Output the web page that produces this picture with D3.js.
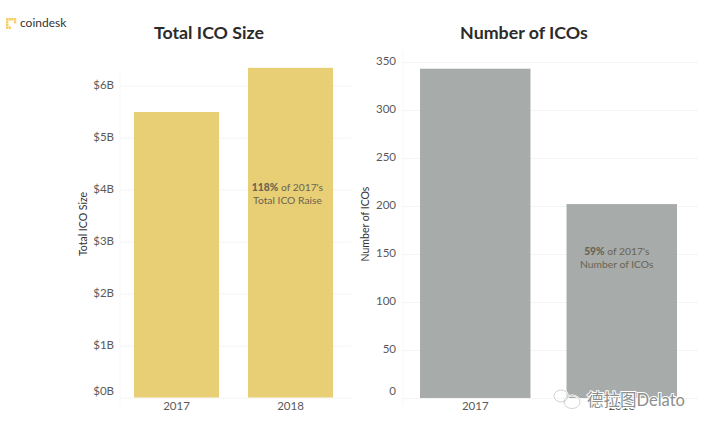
<!DOCTYPE html>
<html>
<head>
<meta charset="utf-8">
<script src="https://cdn.jsdelivr.net/npm/d3@7"></script>
<style>
  html, body { margin: 0; padding: 0; background: #fff; }
  svg { display: block; font-family: Lato, "Noto Sans CJK SC", sans-serif; }
  .grid line { stroke: #f3f4f3; }
  .grid path { display: none; }
  .yticks text, .xticks text { fill: #5a5a5a; font-size: 11.5px; font-family: Lato, sans-serif; }
  .title { fill: #2b2b2b; font-size: 17.8px; font-weight: 700; }
  .ylabel { fill: #333; font-size: 10.5px; }
  .note { fill: #6a6450; font-size: 10.3px; }
</style>
</head>
<body>
<svg id="chart" width="711" height="432"></svg>
<script>
var years = ["2017", "2018"];

var sizeTitle = "Total ICO Size";
var sizeValues = [5.49, 6.34];
var sizeTicks = [0, 1, 2, 3, 4, 5, 6];
var sizeNote = [["118%", " of 2017's"], ["", "Total ICO Raise"]];

var countTitle = "Number of ICOs";
var countValues = [343, 202];
var countTicks = [0, 50, 100, 150, 200, 250, 300, 350];
var countNote = [["59%", " of 2017's"], ["", "Number of ICOs"]];

var logoCells = [[0,0],[1,0],[2,0],[3,0],[0,1],[0,2],[0,3],[1,3],[3,1]];

var svg = d3.select("#chart");

function drawPanel(o) {
  var x = d3.scaleBand()
    .domain(years)
    .range(o.xRange)
    .paddingInner(o.padIn)
    .paddingOuter(o.padOut);
  var y = d3.scaleLinear()
    .domain([0, o.yMax])
    .range([o.yBase, o.yTop]);

  // faint frame line on the left of the plot
  svg.append("line")
    .attr("x1", o.xRange[0]).attr("x2", o.xRange[0])
    .attr("y1", o.yTop - 12).attr("y2", o.yBase + 8)
    .attr("stroke", "#f7f7f7");

  svg.append("g")
    .attr("class", "grid")
    .attr("transform", "translate(" + o.xRange[0] + ",0)")
    .call(d3.axisLeft(y)
      .tickValues(o.ticks)
      .tickSize(o.xRange[0] - o.xRange[1] - 4)
      .tickFormat(""));

  var yAxis = svg.append("g")
    .attr("class", "yticks")
    .attr("transform", "translate(" + o.labelX + ",-1)")
    .call(d3.axisLeft(y)
      .tickValues(o.ticks)
      .tickSize(0)
      .tickPadding(0)
      .tickFormat(o.format));
  yAxis.select(".domain").remove();
  // the zero label sits above its line
  yAxis.selectAll(".tick")
    .filter(function(d) { return d === 0; })
    .select("text")
    .attr("dy", "-0.2em");

  svg.append("g")
    .selectAll("rect")
    .data(o.values)
    .enter().append("rect")
    .attr("x", function(d, i) { return x(years[i]); })
    .attr("y", function(d) { return y(d); })
    .attr("width", x.bandwidth())
    .attr("height", function(d) { return y(0) - y(d); })
    .attr("fill", o.color);

  var xAxis = svg.append("g")
    .attr("class", "xticks")
    .attr("transform", "translate(0," + o.yBase + ")")
    .call(d3.axisBottom(x).tickSize(0).tickPadding(4));
  xAxis.select(".domain").remove();

  svg.append("text")
    .attr("class", "title")
    .attr("x", o.titleX).attr("y", 39)
    .attr("text-anchor", "middle")
    .text(o.title);

  svg.append("text")
    .attr("class", "ylabel")
    .attr("transform", "translate(" + o.ylabelX + "," + o.ylabelY + ") rotate(-90)")
    .attr("text-anchor", "middle")
    .text(o.title);

  var note = svg.append("text")
    .attr("class", "note")
    .attr("text-anchor", "middle");
  o.note.forEach(function(line, i) {
    var ts = note.append("tspan")
      .attr("x", x(years[1]) + x.bandwidth() / 2 + o.noteShift)
      .attr("y", o.noteY + i * 13);
    if (line[0]) ts.append("tspan").attr("font-weight", 900).text(line[0]);
    ts.append("tspan").text(line[1]);
  });
}

drawPanel({
  title: sizeTitle, values: sizeValues, ticks: sizeTicks, note: sizeNote,
  xRange: [120, 347], padIn: 0.254, padOut: 0.123,
  yBase: 397.5, yTop: 85.5, yMax: 6, labelX: 114,
  format: function(d) { return "$" + d + "B"; },
  color: "#e8cf76", titleX: 209, ylabelX: 87, ylabelY: 224, noteY: 191, noteShift: -3
});

drawPanel({
  title: countTitle, values: countValues, ticks: countTicks, note: countNote,
  xRange: [403, 694], padIn: 0.246, padOut: 0.116,
  yBase: 398, yTop: 62, yMax: 350, labelX: 396,
  format: function(d) { return d; },
  color: "#a7abaa", titleX: 524, ylabelX: 369, ylabelY: 224, noteY: 255, noteShift: -5
});

// coindesk logo
var logo = svg.append("g").attr("transform", "translate(6,18)");
logo.selectAll("rect")
  .data(logoCells)
  .enter().append("rect")
  .attr("x", function(d) { return d[0] * 2.6; })
  .attr("y", function(d) { return d[1] * 2.8; })
  .attr("width", 2.4).attr("height", 2.6)
  .attr("fill", "#f6cf6a");
svg.append("text")
  .attr("x", 20).attr("y", 27)
  .attr("fill", "#333")
  .attr("font-size", 12)
  .text("coindesk");

// watermark
var birds = [[561, 396, 7, 6], [572, 402, 8, 6.5]];
[["#fff", 2], ["#a5a5a5", 0.5]].forEach(function(pen) {
  svg.append("g")
    .attr("fill", "none")
    .attr("stroke", pen[0])
    .attr("stroke-width", pen[1])
    .selectAll("ellipse")
    .data(birds)
    .enter().append("ellipse")
    .attr("cx", function(d) { return d[0]; })
    .attr("cy", function(d) { return d[1]; })
    .attr("rx", function(d) { return d[2]; })
    .attr("ry", function(d) { return d[3]; });
});

svg.append("text")
  .attr("x", 587).attr("y", 406)
  .attr("font-size", 16.5)
  .attr("fill", "#8b8f8e")
  .attr("stroke", "#fff")
  .attr("stroke-width", 2)
  .attr("paint-order", "stroke")
  .text("德拉图Delato");
</script>
</body>
</html>
